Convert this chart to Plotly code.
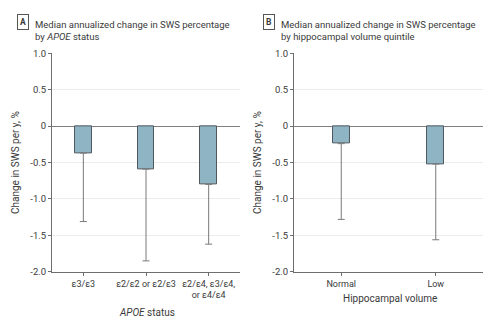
import plotly.graph_objects as go

# Data
apoe_cats = ["ε3/ε3", "ε2/ε2 or ε2/ε3", "ε2/ε4, ε3/ε4,<br>or ε4/ε4"]
apoe_median = [-0.37, -0.59, -0.80]
apoe_lower = [-1.31, -1.85, -1.62]

hippo_cats = ["Normal", "Low"]
hippo_median = [-0.24, -0.52]
hippo_lower = [-1.28, -1.56]

ytickvals = [1.0, 0.5, 0, -0.5, -1.0, -1.5, -2.0]
yticktext = ["1.0", "0.5", "0", "-0.5", "-1.0", "-1.5", "-2.0"]

W, H = 496, 329
FONT = "Roboto, Arial, sans-serif"
BAR_FILL = "#8fb4c4"
BAR_LINE = "#4f585e"
ERR = "#7a7a7a"
AXIS = "#6e6e6e"
TXT = "#3a3a3a"

def px_x(p):
    return p / W

def px_y(p):
    return 1 - p / H

fig = go.Figure()

fig.add_trace(go.Bar(
    x=apoe_cats, y=apoe_median, xaxis="x", yaxis="y", width=0.27,
    marker=dict(color=BAR_FILL, line=dict(color=BAR_LINE, width=1)),
    error_y=dict(type="data", symmetric=False,
                 array=[0] * len(apoe_median),
                 arrayminus=[m - l for m, l in zip(apoe_median, apoe_lower)],
                 color=ERR, thickness=1, width=3.5),
    showlegend=False, hoverinfo="skip"))

fig.add_trace(go.Bar(
    x=hippo_cats, y=hippo_median, xaxis="x2", yaxis="y2", width=0.18,
    marker=dict(color=BAR_FILL, line=dict(color=BAR_LINE, width=1)),
    error_y=dict(type="data", symmetric=False,
                 array=[0] * len(hippo_median),
                 arrayminus=[m - l for m, l in zip(hippo_median, hippo_lower)],
                 color=ERR, thickness=1, width=3.5),
    showlegend=False, hoverinfo="skip"))

ydom = [px_y(275), px_y(49)]
yaxis_common = dict(
    range=[-2.0, 1.0], domain=ydom, tickvals=ytickvals, ticktext=yticktext,
    showgrid=True, gridcolor="#ececec", gridwidth=1,
    zeroline=True, zerolinecolor="#808080", zerolinewidth=1,
    showline=True, linecolor=AXIS, linewidth=1,
    ticks="outside", ticklen=3, tickcolor=AXIS,
    tickfont=dict(family=FONT, size=9.5, color=TXT),
    title=dict(text="Change in SWS per y, %", font=dict(family=FONT, size=10, color=TXT), standoff=8),
)
xaxis_common = dict(
    showgrid=False, zeroline=False, showline=True, linecolor=AXIS, linewidth=1,
    ticks="outside", ticklen=3, tickcolor=AXIS,
    tickfont=dict(family=FONT, size=9, color=TXT),
)

fig.update_layout(
    width=W, height=H, margin=dict(l=0, r=0, t=0, b=0),
    paper_bgcolor="white", plot_bgcolor="white",
    xaxis=dict(domain=[px_x(52), px_x(240)], anchor="y", range=[-0.5, 2.5], **xaxis_common),
    yaxis=dict(anchor="x", **yaxis_common),
    xaxis2=dict(domain=[px_x(294), px_x(483)], anchor="y2", range=[-0.5, 1.5], **xaxis_common),
    yaxis2=dict(anchor="x2", **yaxis_common),
    bargap=0,
)

annotations = [
    # Panel letters
    dict(text="<b>A</b>", x=px_x(23), y=px_y(17), xref="paper", yref="paper", showarrow=False,
         font=dict(family=FONT, size=8.5, color=TXT), bordercolor="#555555", borderwidth=1,
         borderpad=2, xanchor="center", yanchor="middle"),
    dict(text="<b>B</b>", x=px_x(269), y=px_y(17), xref="paper", yref="paper", showarrow=False,
         font=dict(family=FONT, size=8.5, color=TXT), bordercolor="#555555", borderwidth=1,
         borderpad=2, xanchor="center", yanchor="middle"),
    # Panel titles
    dict(text="Median annualized change in SWS percentage<br>by <i>APOE</i> status",
         x=px_x(33), y=px_y(11), xref="paper", yref="paper", showarrow=False,
         xanchor="left", yanchor="top", align="left",
         font=dict(family=FONT, size=9.5, color=TXT)),
    dict(text="Median annualized change in SWS percentage<br>by hippocampal volume quintile",
         x=px_x(279), y=px_y(11), xref="paper", yref="paper", showarrow=False,
         xanchor="left", yanchor="top", align="left",
         font=dict(family=FONT, size=9.5, color=TXT)),
    # X axis titles
    dict(text="<i>APOE</i> status", x=px_x(147), y=px_y(317), xref="paper", yref="paper",
         showarrow=False, xanchor="center", yanchor="middle",
         font=dict(family=FONT, size=10, color=TXT)),
    dict(text="Hippocampal volume", x=px_x(390), y=px_y(303), xref="paper", yref="paper",
         showarrow=False, xanchor="center", yanchor="middle",
         font=dict(family=FONT, size=10, color=TXT)),
]
fig.update_layout(annotations=annotations)

fig.write_html("out.html")
